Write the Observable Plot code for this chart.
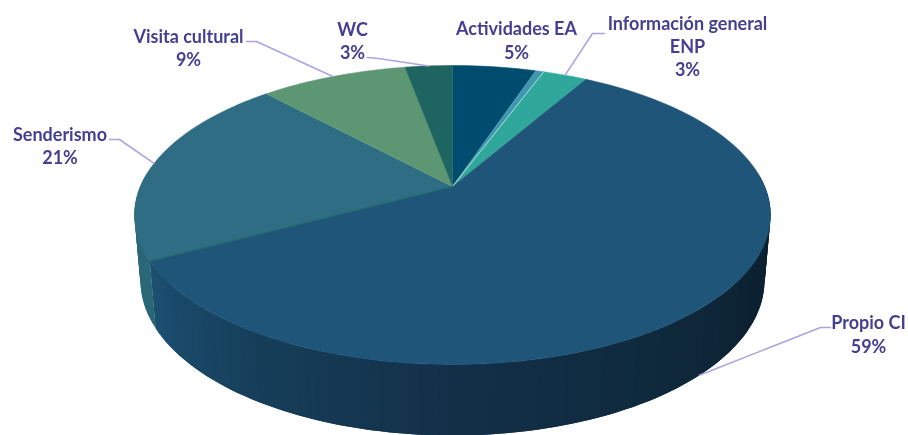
<!DOCTYPE html>
<html>
<head>
<meta charset="utf-8">
<script src="https://cdn.jsdelivr.net/npm/d3@7"></script>
<script src="https://cdn.jsdelivr.net/npm/@observablehq/plot@0.6"></script>
<style>
html,body{margin:0;padding:0;background:#fff}
svg{display:block;filter:blur(0.55px)}
</style>
</head>
<body>
<div id="chart"></div>
<script>
// Data, clockwise from 12 o'clock
const categories = ["Actividades EA", "(sin etiqueta)", "Información general ENP", "Propio CI", "Senderismo", "Visita cultural", "WC"];
const shares = [5.1, 0.5, 2.7, 58.9, 20.9, 9.0, 2.9];
const printedPercent = [5, null, 3, 59, 21, 9, 3];
const topColors = ["#004c6f", "#3f97b0", "#2fa89b", "#1e5578", "#2e6d84", "#5c9673", "#1e6460"];
const sideColors = ["#004c6f", "#3f97b0", "#2fa89b", "#1e5578", "#2a6878", "#5c9673", "#1e6460"];
const propioSideStops = ["#0b1f2e", "#0c2131", "#0f2a3d", "#132f48", "#163e59", "#1c5072"];

// Layout: the two rims of the disc, as ellipses with perspective
const topRim = {cx: 452, cy: 214.5, rx: 318, ry: 149.5, k: 0.1906};
const bottomRim = {cx: 452, cy: 280, rx: 312, ry: 155, k: 0.19};
const labelPlacement = [
  {i: 0, text: "Actividades EA\n5%", x: 516, y: 39, rim: "top"},
  {i: 2, text: "Información general\nENP\n3%", x: 687, y: 45, elbow: [[604, 33], [592, 33]], rim: "top"},
  {i: 3, text: "Propio CI\n59%", x: 868, y: 333, elbow: [[830, 327], [820, 327]], rim: "bottom"},
  {i: 4, text: "Senderismo\n21%", x: 59.5, y: 144.5, elbow: [[109, 139], [119, 139]], rim: "top"},
  {i: 5, text: "Visita cultural\n9%", x: 188, y: 46.5, elbow: [[246, 41], [256, 41]], rim: "top"},
  {i: 6, text: "WC\n3%", x: 352, y: 39.5, elbow: [[367, 57], [378, 58]], rim: "top"}
];

const TAU = Math.PI * 2;
function project(rim, t, radius = 1) {
  const s = Math.sqrt(1 - rim.k * rim.k);
  const a = rim.rx * s, b = rim.ry * (1 - rim.k * rim.k);
  const y0 = rim.cy - rim.ry * rim.k;
  const fwd = -Math.cos(t) * radius;
  const w = 1 - rim.k * fwd;
  return {x: rim.cx + a * Math.sin(t) * radius / w, y: y0 + b * fwd / w};
}
const arcs = d3.pie().sort(null).value(d => d)(shares);
const step = TAU / 240;
function anglesBetween(a0, a1) {
  const n = Math.max(1, Math.ceil((a1 - a0) / step));
  return d3.range(n + 1).map(i => a0 + (a1 - a0) * i / n);
}

// Side wall, drawn first: narrow strips along the front of the disc.
// Each strip runs on under the next one, so no seam shows between them.
const sideRows = [];
const sideFrom = TAU * 0.235, sideTo = TAU * 0.765;
const propioShade = d3.scaleLinear()
  .domain(propioSideStops.map((_, i) => sideFrom + (arcs[3].endAngle - sideFrom) * i / (propioSideStops.length - 1)))
  .range(propioSideStops);
arcs.forEach((arc, i) => {
  const a0 = Math.max(arc.startAngle, sideFrom), a1 = Math.min(arc.endAngle, sideTo);
  if (a1 <= a0) return;
  const ts = anglesBetween(a0, a1);
  d3.pairs(ts).forEach(([t0, t1], j) => {
    const color = i === 3 ? propioShade((t0 + t1) / 2) : sideColors[i];
    const id = `s${i}-${String(j).padStart(4, "0")}`;
    const tEnd = Math.min(a1, t1 + step);
    const tMid = (t0 + tEnd) / 2;
    [project(topRim, t0), project(topRim, tMid), project(topRim, tEnd),
     project(bottomRim, tEnd), project(bottomRim, tMid), project(bottomRim, t0)]
      .forEach(p => sideRows.push({...p, id, color}));
  });
});

// Top face
const topRows = [];
arcs.forEach((arc, i) => {
  const id = `t${i}`, color = topColors[i];
  topRows.push({...project(topRim, 0, 0), id, color});
  anglesBetween(arc.startAngle, arc.endAngle).forEach(t => topRows.push({...project(topRim, t), id, color}));
});

// Thin seams between slices
const seamRows = [
  {arc: 1, side: "endAngle", color: "#a9dcd6"},
  {arc: 3, side: "endAngle", color: "#1f6a64"}
].flatMap((s, n) => [0, 1].map(r => ({...project(topRim, arcs[s.arc][s.side], r), id: `e${n}`, color: s.color})));

// Leader lines run from each slice's mid angle on the rim to its label
const leaderRows = labelPlacement.filter(d => d.elbow).flatMap(d => {
  const mid = (arcs[d.i].startAngle + arcs[d.i].endAngle) / 2;
  const end = project(d.rim === "top" ? topRim : bottomRim, mid);
  return [...d.elbow.map(([x, y]) => ({x, y})), end].map(p => ({...p, id: d.i}));
});

const chart = Plot.plot({
  width: 908,
  height: 435,
  margin: 0,
  x: {domain: [0, 908], axis: null},
  y: {domain: [435, 0], axis: null},
  color: {type: "identity"},
  style: {background: "#fff"},
  marks: [
    Plot.line(sideRows, {x: "x", y: "y", z: "id", fill: "color"}),
    Plot.line(topRows, {x: "x", y: "y", z: "id", fill: "color", stroke: "color", strokeWidth: 0.5}),
    Plot.line(seamRows, {x: "x", y: "y", z: "id", stroke: "color", strokeWidth: 1}),
    Plot.line(leaderRows, {x: "x", y: "y", z: "id", stroke: "#aaa5e2", strokeWidth: 1.6}),
    Plot.text(labelPlacement, {
      x: "x", y: "y", text: "text",
      fontFamily: "Lato", fontWeight: 700, fontSize: 18, lineHeight: 1.3,
      fill: "#453f90", textAnchor: "middle"
    })
  ]
});
document.getElementById("chart").append(chart);
</script>
</body>
</html>
